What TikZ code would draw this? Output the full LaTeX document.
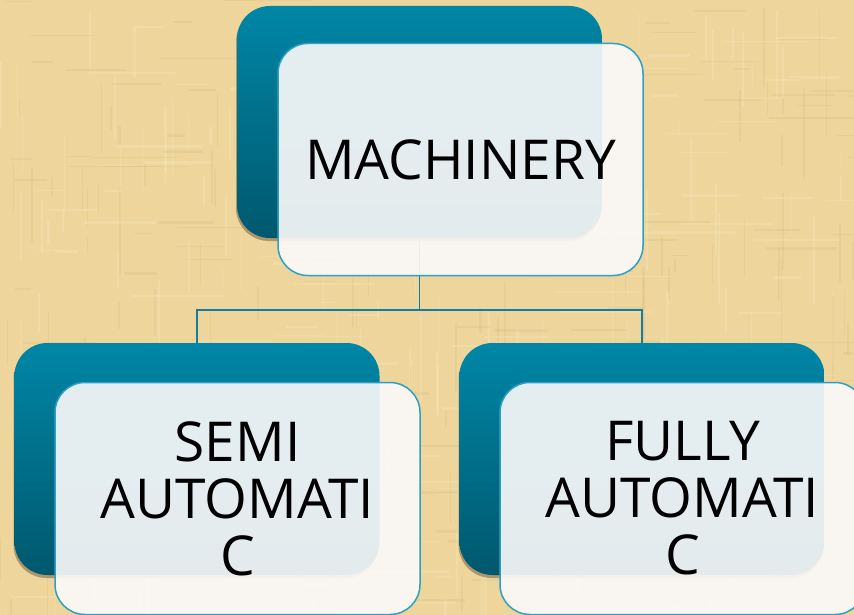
\documentclass[tikz,border=0pt]{standalone}
\usepackage{fontspec}
\setmainfont{Open Sans}
\usetikzlibrary{calc}
\definecolor{parch}{RGB}{237,213,156}
\definecolor{parchlight}{RGB}{250,234,192}
\definecolor{parchdark}{RGB}{200,170,110}
\definecolor{tealtop}{RGB}{0,134,166}
\definecolor{tealbot}{RGB}{0,88,110}
\definecolor{frontfill}{RGB}{251,250,250}
\definecolor{frontline}{RGB}{45,160,195}
\definecolor{conn}{RGB}{22,125,160}
\definecolor{shadowc}{RGB}{120,100,70}
\tikzset{
  backbox/.style={rounded corners=33pt, minimum width=365pt, minimum height=232pt,
    inner sep=0pt, top color=tealtop, bottom color=tealbot, draw=none},
  shadowbox/.style={rounded corners=33pt, minimum width=365pt, minimum height=232pt,
    inner sep=0pt, fill=shadowc, fill opacity=0.55, draw=none},
  frontbox/.style={rounded corners=30pt, minimum width=365pt, minimum height=232pt,
    inner sep=0pt, fill=frontfill, fill opacity=0.91, text opacity=1,
    draw=frontline, draw opacity=1, line width=1.5pt, align=center,
    font=\fontsize{55}{57}\selectfont, text=black},
  connector/.style={draw=conn, line width=1.5pt}
}
\begin{document}
\begin{tikzpicture}[x=1pt,y=-1pt]
\useasboundingbox (0,0) rectangle (854,615);
% parchment background
\fill[parch] (0,0) rectangle (854,615);
\pgfmathsetseed{11}
\begin{scope}
\clip (0,0) rectangle (854,615);
\foreach \i in {1,...,320}{
  \pgfmathsetmacro{\xx}{rnd*854}
  \pgfmathsetmacro{\yy}{rnd*615}
  \pgfmathsetmacro{\ll}{15+rnd*80}
  \pgfmathsetmacro{\ww}{0.8+rnd*2.0}
  \pgfmathsetmacro{\pick}{rnd}
  \ifdim\pick pt<0.5pt
    \draw[parchlight, opacity=0.3, line width=\ww pt] (\xx,\yy) -- ++(0,\ll);
  \else
    \draw[parchdark, opacity=0.16, line width=\ww pt] (\xx,\yy) -- ++(0,\ll);
  \fi
}
\foreach \i in {1,...,320}{
  \pgfmathsetmacro{\xx}{rnd*854}
  \pgfmathsetmacro{\yy}{rnd*615}
  \pgfmathsetmacro{\ll}{15+rnd*80}
  \pgfmathsetmacro{\ww}{0.8+rnd*2.0}
  \pgfmathsetmacro{\pick}{rnd}
  \ifdim\pick pt<0.5pt
    \draw[parchlight, opacity=0.3, line width=\ww pt] (\xx,\yy) -- ++(\ll,0);
  \else
    \draw[parchdark, opacity=0.14, line width=\ww pt] (\xx,\yy) -- ++(\ll,0);
  \fi
}
\end{scope}
% shadows
\node[shadowbox] (topsh) at (418.5,125) {};
\node[shadowbox] (leftsh) at (196,462) {};
\node[shadowbox] (rightsh) at (641,462) {};
% back boxes
\node[backbox] (topback) at (419.5,122) {};
\node[backbox] (leftback) at (197,459) {};
\node[backbox] (rightback) at (642,459) {};
% connectors
\coordinate (junc) at (419.5,310);
\draw[connector] (topback.south) -- (junc);
\draw[connector] (leftback.north) |- (junc) -| (rightback.north);
% front boxes
\node[frontbox] (top) at (460.5,159.5) {MACHINERY};
\node[frontbox] (left) at (237.5,498.5) {SEMI\\AUTOMATI\\C};
\node[frontbox] (right) at (682.5,498.5) {FULLY\\AUTOMATI\\C};
\end{tikzpicture}
\end{document}
